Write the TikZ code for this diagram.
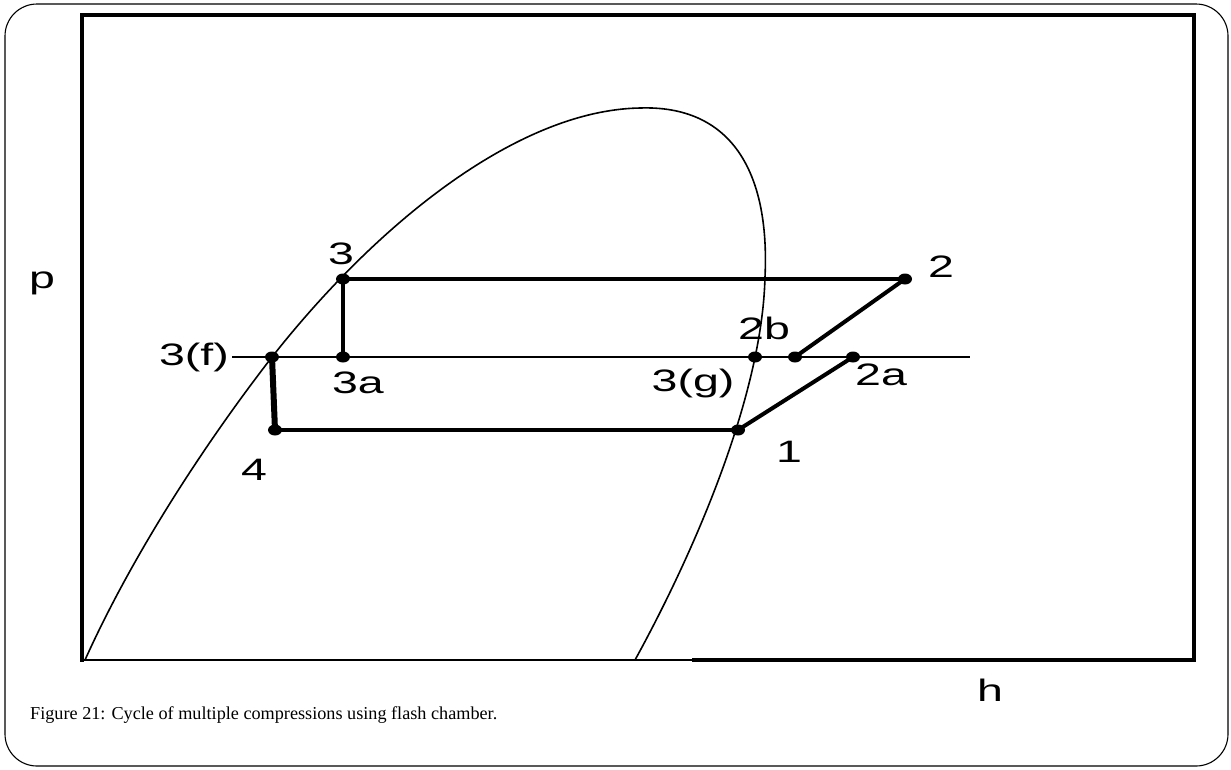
\documentclass[tikz,border=0pt]{standalone}
\usepackage{fontspec}
\usetikzlibrary{shapes.geometric}
\setmainfont{Liberation Sans}
\newfontfamily\capfont{Liberation Serif}
\newcommand{\wide}[1]{\scalebox{1.5}[1]{#1}}
\begin{document}
\begin{tikzpicture}[x=1pt,y=-1pt,
  lbl/.style={font=\fontsize{31}{34}\selectfont, inner sep=0pt},
  dot/.style={ellipse, fill=black, inner sep=0pt, minimum width=14pt, minimum height=11pt},
  cyc/.style={line width=4.5pt},
  thin/.style={line width=2pt},
  dome/.style={line width=1.6pt}]
\useasboundingbox (0,0) rectangle (1231,769);
% outer frame
\draw[line width=1.1pt, rounded corners=32pt] (5,4) rectangle (1228,766);
% axes box
\draw[line width=3.6pt] (692,660) -- (1194,660) -- (1194,15) -- (82,15) -- (82,662);
\draw[line width=1.5pt] (82,660) -- (692,660);
% vapour dome
\draw[dome] (85,660) .. controls (130,560) and (200,450) .. (272,357)
  .. controls (380,220) and (520,110) .. (640,108)
  .. controls (730,105) and (770,170) .. (765,277)
  .. controls (762,400) and (690,560) .. (635,660);
% points
\node[dot] (p3) at (343,279) {};
\node[dot] (p2) at (905,279) {};
\node[dot] (p3f) at (272,357) {};
\node[dot] (p3a) at (343,357) {};
\node[dot] (p3g) at (755,357) {};
\node[dot] (p2b) at (795,357) {};
\node[dot] (p2a) at (853,357) {};
\node[dot] (p4) at (275,430) {};
\node[dot] (p1) at (738,430) {};
\coordinate (lstart) at (232,357);
\coordinate (lend) at (970,357);
% lines
\draw[thin] (lstart) -- (lend);
\draw[cyc] (p3.center) -- (p2.center);
\draw[line width=3.2pt] (p3.center) -- (p3a.center);
\draw[line width=6pt] (p3f.center) -- (p4.center);
\draw[line width=4pt] (p4.center) -- (p1.center);
\draw[line width=4pt] (p1.center) -- (p2a.center);
\draw[line width=4pt] (p2b.center) -- (p2.center);
% labels
\node[lbl] (tp) at (42,283) {\wide{p}};
\node[lbl] (th) at (990,690) {\wide{h}};
\node[lbl] (t3) at (341,254) {\wide{3}};
\node[lbl] (t2) at (941,267) {\wide{2}};
\node[lbl, anchor=east] (t3f) at (229,357) {\wide{3(f)}};
\node[lbl] (t3a) at (358,383) {\wide{3a}};
\node[lbl] (t3g) at (693,383) {\wide{3(g)}};
\node[lbl] (t2b) at (764,328) {\wide{2b}};
\node[lbl] (t2a) at (881,375) {\wide{2a}};
\node[lbl] (t1) at (789,452) {\wide{1}};
\node[lbl] (t4) at (254,470) {\wide{4}};
\node[anchor=base west, inner sep=0pt, font=\capfont\fontsize{18.2}{21}\selectfont] (cap) at (30,719) {Figure 21: Cycle of multiple compressions using flash chamber.};
\end{tikzpicture}
\end{document}
